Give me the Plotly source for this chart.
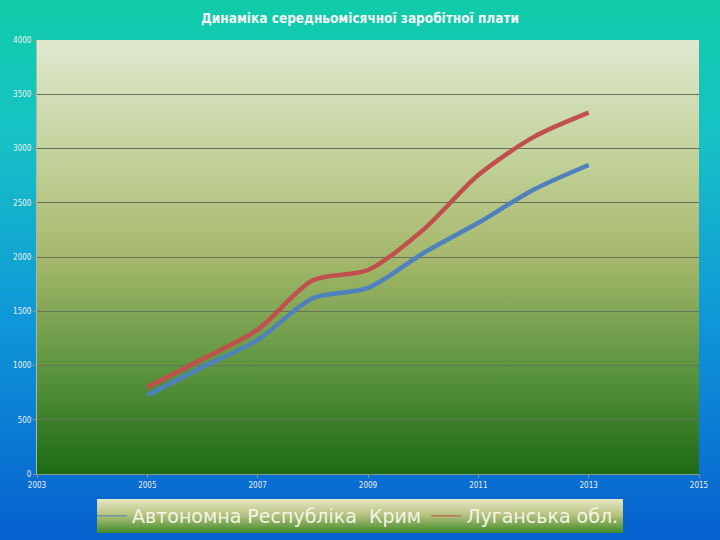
import base64
import plotly.graph_objects as go

years = [2005, 2006, 2007, 2008, 2009, 2010, 2011, 2012, 2013]
crimea = [725, 985, 1235, 1620, 1715, 2035, 2315, 2620, 2848]
lugansk = [800, 1060, 1330, 1785, 1880, 2250, 2755, 3105, 3330]
series_names = ["Автономна Республіка  Крим", "Луганська обл."]
series_colors = ["#4f81bd", "#c0504d"]
title_text = "Динаміка середньомісячної заробітної плати"
x_ticks = [2003, 2005, 2007, 2009, 2011, 2013, 2015]
y_ticks = [0, 500, 1000, 1500, 2000, 2500, 3000, 3500, 4000]


def grad_uri(stops):
    st = "".join(f'<stop offset="{o}" stop-color="{c}"/>' for o, c in stops)
    svg = ('<svg xmlns="http://www.w3.org/2000/svg" width="100" height="100" preserveAspectRatio="none">'
           f'<defs><linearGradient id="g" x1="0" y1="0" x2="0" y2="1">{st}</linearGradient></defs>'
           '<rect x="0" y="0" width="100" height="100" fill="url(#g)"/></svg>')
    return "data:image/svg+xml;base64," + base64.b64encode(svg.encode()).decode()


L, R, T, B = 37, 21, 40, 66
W, H = 720, 540
pw, ph = W - L - R, H - T - B


def px(x):
    return (x - L) / pw


def py(y):
    return (H - B - y) / ph


bg = grad_uri([(0, "#10cca8"), (0.25, "#17c2c6"), (0.6, "#0f96d8"), (1, "#065fcf")])
plotbg = grad_uri([(0, "#dfe8cf"), (0.3, "#bfcf95"), (0.5, "#a6b86c"), (0.75, "#5f9640"), (1, "#1c6a15")])
legbg = grad_uri([(0, "#e6e6c4"), (0.45, "#b9c483"), (1, "#3f8a28")])

fig = go.Figure()
for name, vals, col in zip(series_names, [crimea, lugansk], series_colors):
    fig.add_trace(go.Scatter(x=years, y=vals, name=name, mode="lines", showlegend=False,
                             line=dict(color=col, width=4.5, shape="spline", smoothing=0.8)))
for name, col in zip(series_names, series_colors):
    fig.add_trace(go.Scatter(x=[None], y=[None], name=name, mode="lines", showlegend=True,
                             line=dict(color=col, width=1)))

fig.update_layout(
    width=W, height=H,
    margin=dict(l=L, r=R, t=T, b=B, autoexpand=False),
    paper_bgcolor="#0a8fd0",
    plot_bgcolor="rgba(0,0,0,0)",
    title=dict(text="<b>" + title_text + "</b>", x=0.5, xref="container", xanchor="center",
               y=1 - 18 / H, yanchor="middle",
               font=dict(family="DejaVu Sans Condensed", size=13.5, color="#f4f4f4")),
    images=[
        dict(source=bg, xref="paper", yref="paper", x=px(0), y=py(0), sizex=W / pw, sizey=H / ph,
             sizing="stretch", layer="below", xanchor="left", yanchor="top"),
        dict(source=plotbg, xref="paper", yref="paper", x=0, y=1, sizex=1, sizey=1,
             sizing="stretch", layer="below", xanchor="left", yanchor="top"),
        dict(source=legbg, xref="paper", yref="paper", x=px(97), y=py(499), sizex=(623 - 97) / pw,
             sizey=(533 - 499) / ph, sizing="stretch", layer="below", xanchor="left", yanchor="top"),
    ],
    xaxis=dict(range=[2003, 2015], tickvals=x_ticks, showgrid=False, zeroline=False,
               showline=True, linecolor="#8a9a88", ticks="outside", ticklen=3, tickcolor="#8a9a88",
               tickfont=dict(family="DejaVu Sans Condensed", size=8, color="#f0f0f0")),
    yaxis=dict(range=[0, 4000], tickvals=y_ticks, showgrid=True, gridcolor="#66715a", gridwidth=1,
               zeroline=False, showline=True, linecolor="#b0b8a0", ticks="outside", ticklen=3,
               tickcolor="#8a9a88",
               tickfont=dict(family="DejaVu Sans Condensed", size=8, color="#f0f0f0")),
    legend=dict(orientation="h", x=px(358), xanchor="center", y=py(516), yanchor="middle",
                bgcolor="rgba(0,0,0,0)", itemwidth=30, tracegroupgap=0,
                font=dict(family="DejaVu Sans", size=19, color="#f4f4e4")),
    showlegend=True,
)

fig.write_html("out.html", config={"displayModeBar": False},
               post_script="document.body.style.margin='0';")
